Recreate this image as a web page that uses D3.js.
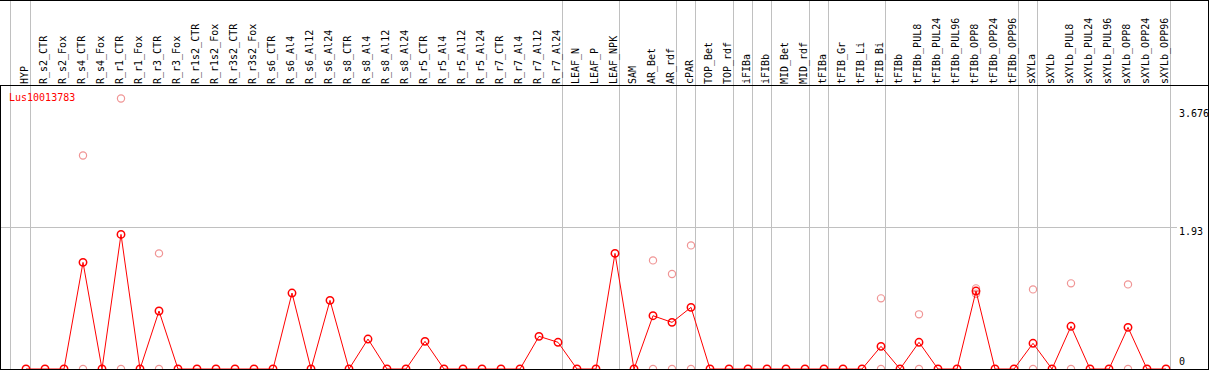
<!DOCTYPE html>
<html>
<head>
<meta charset="utf-8">
<script src="https://cdn.jsdelivr.net/npm/d3@7"></script>
<style>
  html, body { margin: 0; padding: 0; background: #fff; }
  text { font-family: "DejaVu Sans Mono", monospace; font-size: 10px; }
</style>
</head>
<body>
<div id="expr_chart"></div>
<script>
// sample names (one column each)
var categories = ["HYP", "R_s2_CTR", "R_s2_Fox", "R_s4_CTR", "R_s4_Fox", "R_r1_CTR", "R_r1_Fox",
  "R_r3_CTR", "R_r3_Fox", "R_r1s2_CTR", "R_r1s2_Fox", "R_r3s2_CTR", "R_r3s2_Fox", "R_s6_CTR",
  "R_s6_Al4", "R_s6_Al12", "R_s6_Al24", "R_s8_CTR", "R_s8_Al4", "R_s8_Al12", "R_s8_Al24",
  "R_r5_CTR", "R_r5_Al4", "R_r5_Al12", "R_r5_Al24", "R_r7_CTR", "R_r7_Al4", "R_r7_Al12", "R_r7_Al24",
  "LEAF_N", "LEAF_P", "LEAF_NPK", "SAM", "AR_Bet", "AR_rdf", "cPAR", "TOP_Bet", "TOP_rdf",
  "iFIBa", "iFIBb", "MID_Bet", "MID_rdf", "tFIBa", "tFIB_Gr", "tFIB_Li", "tFIB_Bi", "tFIBb",
  "tFIBb_PUL8", "tFIBb_PUL24", "tFIBb_PUL96", "tFIBb_OPP8", "tFIBb_OPP24", "tFIBb_OPP96",
  "sXYLa", "sXYLb", "sXYLb_PUL8", "sXYLb_PUL24", "sXYLb_PUL96", "sXYLb_OPP8", "sXYLb_OPP24", "sXYLb_OPP96"];

// mean expression (red line)
var meanValues = [0, 0, 0, 1.449, 0, 1.829, 0,
  0.788, 0, 0, 0, 0, 0, 0,
  1.032, 0, 0.933, 0, 0.407, 0, 0,
  0.376, 0, 0, 0, 0, 0, 0.444, 0.363,
  0, 0, 1.571, 0, 0.724, 0.634, 0.838, 0, 0,
  0, 0, 0, 0, 0, 0, 0, 0.308, 0,
  0.363, 0, 0, 1.059, 0, 0,
  0.349, 0, 0.580, 0, 0, 0.566, 0, 0];

// replicate values (faint circles), null where none is visible
var repHigh = [null, null, null, 2.902, null, 3.676, null,
  1.571, null, null, null, null, null, null,
  null, null, null, null, null, null, null,
  null, null, null, null, null, null, null, null,
  null, null, null, null, 1.476, 1.290, 1.680, null, null,
  null, null, null, null, null, null, null, 0.960, null,
  0.743, null, null, 1.096, null, null,
  1.082, null, 1.164, null, null, 1.150, null, null];
var repLow = [null, null, null, 0, null, 0, null,
  0, null, null, null, null, null, null,
  null, null, null, null, null, null, null,
  null, null, null, null, null, null, null, null,
  null, null, null, null, 0, 0, 0, null, null,
  null, null, null, null, null, null, null, 0, null,
  0, null, null, 1.022, null, null,
  0, null, 0, null, null, 0, null, null];

// last sample of each group -> vertical separator
var groupEnds = ["HYP", "R_r7_Al24", "LEAF_NPK", "AR_rdf", "cPAR", "TOP_rdf", "iFIBa", "iFIBb",
  "MID_rdf", "tFIBa", "tFIB_Bi", "tFIBb_OPP96", "sXYLa", "sXYLb_OPP96"];

var yTicks = [0, 1.93, 3.676];
var geneName = "Lus10013783";

var width = 1209, height = 370;
var headerBottom = 85.5, plotBottom = 369;

var svg = d3.select("#expr_chart")
  .append("svg")
    .attr("width", width)
    .attr("height", height);

// x: one column per sample
var x = d3.scalePoint()
  .domain(categories)
  .range([26, 26 + 19 * (categories.length - 1)]);

var y = d3.scaleLinear()
  .domain([0, 3.676])
  .range([plotBottom, 98.5]);

// grey separators
svg.append("line")
  .attr("x1", x(categories[0]) - 15.5).attr("x2", x(categories[0]) - 15.5)
  .attr("y1", 0).attr("y2", height)
  .attr("stroke", "#c0c0c0");
svg.selectAll(".sep")
  .data(groupEnds)
  .enter()
  .append("line")
    .attr("x1", function(d){ return x(d) + 4.5; })
    .attr("x2", function(d){ return x(d) + 4.5; })
    .attr("y1", 0).attr("y2", height)
    .attr("stroke", "#c0c0c0");

// horizontal grid at 1.93
svg.append("line")
  .attr("x1", 0).attr("x2", 1177)
  .attr("y1", Math.round(y(1.93)) + 0.5).attr("y2", Math.round(y(1.93)) + 0.5)
  .attr("stroke", "#c0c0c0");

// replicate circles
var pink = "#f09595";
[repHigh, repLow].forEach(function(rep){
  svg.selectAll(null)
    .data(categories.map(function(c, i){ return {c: c, v: rep[i]}; })
      .filter(function(d){ return d.v !== null; }))
    .enter()
    .append("circle")
      .attr("cx", function(d){ return x(d.c); })
      .attr("cy", function(d){ return y(d.v); })
      .attr("r", 3.6)
      .attr("fill", "none")
      .attr("stroke", pink)
      .attr("stroke-width", 1.2);
});

// mean line
var pts = categories.map(function(c, i){ return [x(c), y(meanValues[i])]; });
svg.append("path")
  .datum(pts)
  .attr("fill", "none")
  .attr("stroke", "#ff0000")
  .attr("stroke-width", 1)
  .attr("d", d3.line());

svg.selectAll(".dot")
  .data(pts)
  .enter()
  .append("circle")
    .attr("cx", function(d){ return d[0]; })
    .attr("cy", function(d){ return d[1]; })
    .attr("r", 3.7)
    .attr("fill", "none")
    .attr("stroke", "#ff0000")
    .attr("stroke-width", 1.5);

// frame
svg.append("line").attr("x1", 0).attr("x2", width).attr("y1", 0.5).attr("y2", 0.5).attr("stroke", "#000");
svg.append("line").attr("x1", 0).attr("x2", width).attr("y1", headerBottom).attr("y2", headerBottom).attr("stroke", "#000");
svg.append("line").attr("x1", 0).attr("x2", width).attr("y1", plotBottom + 0.5).attr("y2", plotBottom + 0.5).attr("stroke", "#000");
svg.append("line").attr("x1", 0.5).attr("x2", 0.5).attr("y1", headerBottom).attr("y2", height).attr("stroke", "#000");
svg.append("line").attr("x1", width - 0.5).attr("x2", width - 0.5).attr("y1", 0).attr("y2", height).attr("stroke", "#000");

// column labels
svg.selectAll(".lab")
  .data(categories)
  .enter()
  .append("text")
    .attr("transform", function(d){ return "translate(" + (x(d) + 1.5) + ",84) rotate(-90)"; })
    .attr("fill", "#000")
    .text(function(d){ return d; });

// gene name
svg.append("text")
  .attr("x", 9).attr("y", 101)
  .attr("fill", "#ff0000")
  .text(geneName);

// y tick labels (kept inside the plot area)
svg.selectAll(".tick")
  .data(yTicks)
  .enter()
  .append("text")
    .attr("x", 1179)
    .attr("y", function(d){ return Math.max(117, Math.min(plotBottom - 4, y(d) + 8)); })
    .attr("fill", "#000")
    .text(function(d){ return d; });
</script>
</body>
</html>
